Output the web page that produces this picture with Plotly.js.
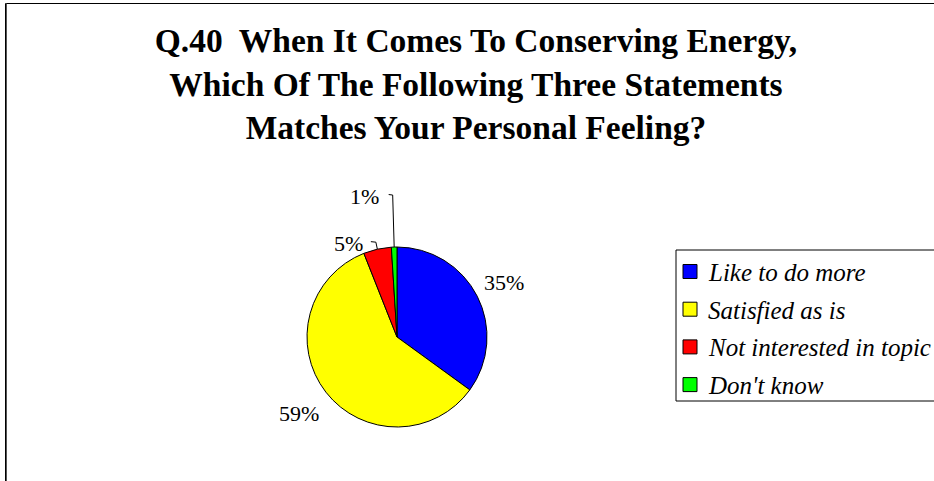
<!DOCTYPE html>
<html>
<head>
<meta charset="utf-8">
<script src="https://cdn.plot.ly/plotly-3.0.1.min.js"></script>
<style>
  html, body { margin: 0; padding: 0; background: #fff; }
  #chart { width: 934px; height: 481px; }
</style>
</head>
<body>
<div id="chart"></div>
<script>
// ---- Data ----
const titleLines = [
  "Q.40  When It Comes To Conserving Energy,",
  "Which Of The Following Three Statements",
  "Matches Your Personal Feeling?"
];
const categories = ["Like to do more", "Satisfied as is", "Not interested in topic", "Don't know"];
const shares = [35, 59, 5, 1];
const sliceColors = ["#0000FF", "#FFFF00", "#FF0000", "#00FF00"];
const valueLabels = shares.map(v => v + "%");

// ---- Layout geometry (pixels) ----
const W = 934, H = 481;
const CX = 397, CY = 337, R = 90;
const px = x => x / W;
const py = y => 1 - y / H;
const FONT = "Liberation Serif";

// label style per slice: radial or leader line
const labelStyle = [
  { kind: "radial", k: 1.34 },
  { kind: "radial", k: 1.38 },
  { kind: "leader", rise: 7, run: 5, gap: 6 },
  { kind: "leader", rise: 52, run: 4, gap: 8 }
];

const total = shares.reduce((a, b) => a + b, 0);
const annotations = [];
const shapes = [];

let cum = 0;
shares.forEach((v, i) => {
  const mid = 2 * Math.PI * (cum + v / 2) / total;
  cum += v;
  const sx = Math.sin(mid), cy = Math.cos(mid);
  const st = labelStyle[i];
  if (st.kind === "radial") {
    annotations.push({
      text: valueLabels[i], showarrow: false,
      x: px(CX + st.k * R * sx), y: py(CY - st.k * R * cy),
      xref: "paper", yref: "paper", xanchor: "center", yanchor: "middle",
      font: { family: FONT, size: 22, color: "#000" }
    });
  } else {
    const ex = CX + R * sx, ey = CY - R * cy;
    const elx = ex - 1.5, ely = ey - st.rise;
    const hx = elx - st.run;
    shapes.push({
      type: "path", xref: "paper", yref: "paper",
      path: `M ${px(ex)} ${py(ey)} L ${px(elx)} ${py(ely)} L ${px(hx)} ${py(ely - 0.5)}`,
      line: { color: "#000", width: 1 }
    });
    annotations.push({
      text: valueLabels[i], showarrow: false,
      x: px(hx - st.gap), y: py(ely + 1),
      xref: "paper", yref: "paper", xanchor: "right", yanchor: "middle",
      font: { family: FONT, size: 22, color: "#000" }
    });
  }
});

// ---- Manual legend ----
const LG = { x0: 676, y0: 250, x1: 960, y1: 401, rowTop: 271.5, rowGap: 37.7, sq: 14, sqX: 683, textX: 706 };
shapes.push({
  type: "rect", xref: "paper", yref: "paper",
  x0: px(LG.x0), x1: px(LG.x1), y0: py(LG.y1), y1: py(LG.y0),
  line: { color: "#000", width: 1 }, fillcolor: "rgba(0,0,0,0)"
});
categories.forEach((c, i) => {
  const yc = LG.rowTop + i * LG.rowGap;
  shapes.push({
    type: "rect", xref: "paper", yref: "paper",
    x0: px(LG.sqX), x1: px(LG.sqX + LG.sq),
    y0: py(yc + LG.sq / 2), y1: py(yc - LG.sq / 2),
    line: { color: "#000", width: 1 }, fillcolor: sliceColors[i]
  });
  annotations.push({
    text: "<i>" + c + "</i>", showarrow: false,
    x: px(LG.textX), y: py(yc + 1),
    xref: "paper", yref: "paper", xanchor: "left", yanchor: "middle",
    font: { family: FONT, size: 25, color: "#000" }
  });
});

// ---- Outer frame ----
shapes.push({
  type: "rect", xref: "paper", yref: "paper",
  x0: px(5.5), x1: px(990), y0: py(520), y1: py(3.5),
  line: { color: "#000", width: 1 }, fillcolor: "rgba(0,0,0,0)"
});
shapes.push({
  type: "line", xref: "paper", yref: "paper",
  x0: px(6.5), x1: px(6.5), y0: py(520), y1: py(3.5),
  line: { color: "#555", width: 1 }
});

const trace = {
  type: "pie",
  labels: categories,
  values: shares,
  sort: false,
  direction: "clockwise",
  rotation: 0,
  textinfo: "none",
  hoverinfo: "label+percent",
  showlegend: false,
  marker: { colors: sliceColors, line: { color: "#000", width: 1 } },
  domain: { x: [px(CX - R), px(CX + R)], y: [py(CY + R), py(CY - R)] }
};

const layout = {
  width: W, height: H,
  margin: { l: 0, r: 0, t: 0, b: 0 },
  paper_bgcolor: "#fff",
  showlegend: false,
  title: {
    text: "<b>" + titleLines.join("<br>") + "</b>",
    x: px(476), xanchor: "center", xref: "paper",
    y: py(52), yanchor: "top", yref: "container",
    font: { family: FONT, size: 33.5, color: "#000" }
  },
  annotations: annotations,
  shapes: shapes
};

Plotly.newPlot("chart", [trace], layout, { displayModeBar: false, staticPlot: true });
</script>
</body>
</html>
